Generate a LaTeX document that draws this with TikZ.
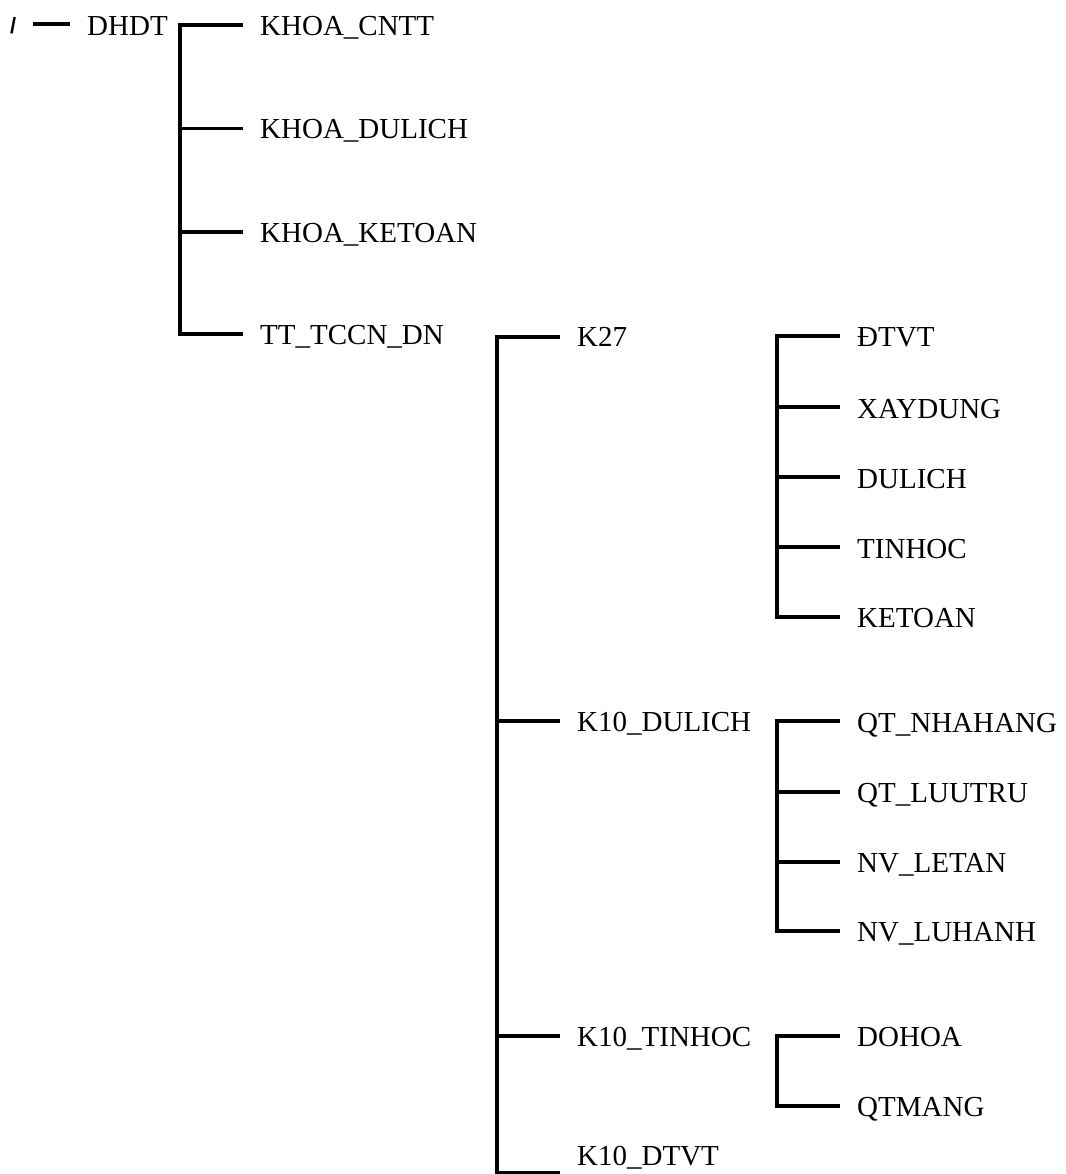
\documentclass[tikz,border=0pt]{standalone}
\usepackage{fontspec}
\setmainfont{Liberation Serif}
\newfontfamily\slashfont{Liberation Sans}
\begin{document}
\begin{tikzpicture}[x=1pt,y=1pt,
  lbl/.style={anchor=base west,inner ysep=0pt,inner xsep=17pt,font=\fontsize{29}{35}\selectfont},
  wire/.style={line width=3.7pt,line join=miter}]
\useasboundingbox (0,-1174) rectangle (1065,0);
% level 0
\node[anchor=base west,inner sep=0pt,font=\slashfont\fontsize{22}{26}\selectfont\bfseries] (slash) at (10,-33.5) {/};
\coordinate (s0) at (33,-24);
\node[lbl] (dhdt) at (70,-35.5) {DHDT};
\draw[wire] (s0) -- (s0 -| dhdt.west);
% level 1
\node[lbl] (cntt) at (243,-35.5) {KHOA\_CNTT};
\node[lbl] (kdl) at (243,-138.5) {KHOA\_DULICH};
\node[lbl] (kkt) at (243,-242.5) {KHOA\_KETOAN};
\node[lbl] (tt) at (243,-344.5) {TT\_TCCN\_DN};
\coordinate (a1) at (180,-25);
\coordinate (a2) at (180,-128.5);
\coordinate (a3) at (180,-232);
\coordinate (a4) at (180,-334);
\draw[wire] (a1 -| cntt.west) -- (a1) -- (a4) -- (a4 -| tt.west);
\draw[wire] (a2) -- (a2 -| kdl.west);
\draw[wire] (a3) -- (a3 -| kkt.west);
% level 2
\node[lbl] (k27) at (560,-346) {K27};
\node[lbl] (k10dl) at (560,-731) {K10\_DULICH};
\node[lbl] (k10th) at (560,-1046) {K10\_TINHOC};
\node[lbl] (k10dt) at (560,-1165) {K10\_DTVT};
\coordinate (b1) at (497,-337);
\coordinate (b2) at (497,-721);
\coordinate (b3) at (497,-1036);
\coordinate (b4) at (497,-1173);
\draw[wire] (b1 -| k27.west) -- (b1) -- (b4) -- (b4 -| k10dt.west);
\draw[wire] (b2) -- (b2 -| k10dl.west);
\draw[wire] (b3) -- (b3 -| k10th.west);
% level 3 : K27
\node[lbl] (dtvt) at (840,-346) {ĐTVT};
\node[lbl] (xd) at (840,-418) {XAYDUNG};
\node[lbl] (dl) at (840,-488) {DULICH};
\node[lbl] (th) at (840,-558) {TINHOC};
\node[lbl] (kt) at (840,-627) {KETOAN};
\coordinate (c1) at (777,-336);
\coordinate (c2) at (777,-407);
\coordinate (c3) at (777,-477);
\coordinate (c4) at (777,-547);
\coordinate (c5) at (777,-617);
\draw[wire] (c1 -| dtvt.west) -- (c1) -- (c5) -- (c5 -| kt.west);
\draw[wire] (c2) -- (c2 -| xd.west);
\draw[wire] (c3) -- (c3 -| dl.west);
\draw[wire] (c4) -- (c4 -| th.west);
% level 3 : K10_DULICH
\node[lbl] (nh) at (840,-732) {QT\_NHAHANG};
\node[lbl] (lt) at (840,-802) {QT\_LUUTRU};
\node[lbl] (le) at (840,-872) {NV\_LETAN};
\node[lbl] (lh) at (840,-941) {NV\_LUHANH};
\coordinate (d1) at (777,-721);
\coordinate (d2) at (777,-792);
\coordinate (d3) at (777,-862);
\coordinate (d4) at (777,-931);
\draw[wire] (d1 -| nh.west) -- (d1) -- (d4) -- (d4 -| lh.west);
\draw[wire] (d2) -- (d2 -| lt.west);
\draw[wire] (d3) -- (d3 -| le.west);
% level 3 : K10_TINHOC
\node[lbl] (dh) at (840,-1046) {DOHOA};
\node[lbl] (qm) at (840,-1116) {QTMANG};
\coordinate (e1) at (777,-1036);
\coordinate (e2) at (777,-1106);
\draw[wire] (e1 -| dh.west) -- (e1) -- (e2) -- (e2 -| qm.west);
\end{tikzpicture}
\end{document}
